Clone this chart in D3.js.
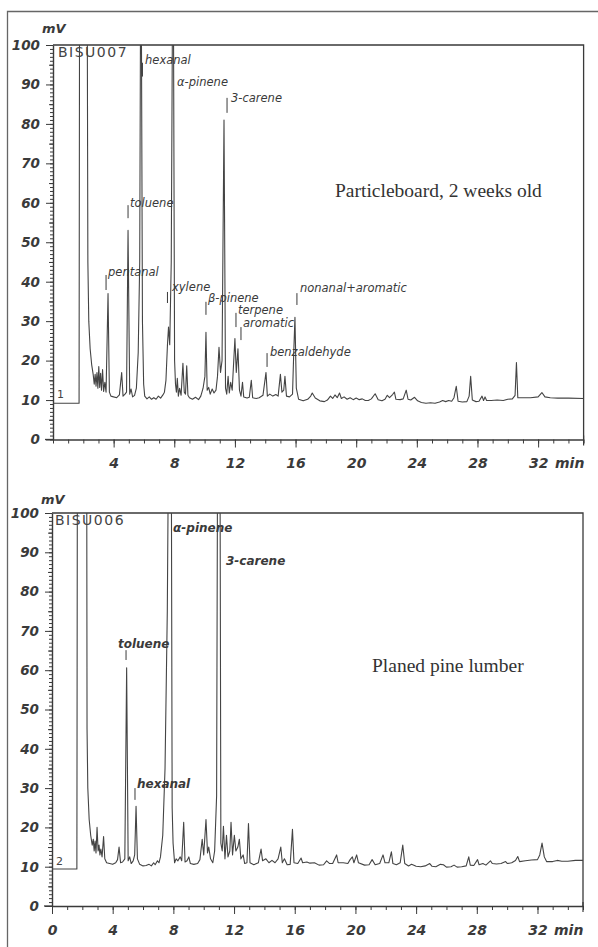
<!DOCTYPE html>
<html><head><meta charset="utf-8">
<script src="https://cdn.jsdelivr.net/npm/d3@7"></script>
<style>
html,body{margin:0;padding:0;background:#fff;}
svg{display:block;}
</style></head><body>
<svg id="c" width="598" height="947"></svg>
<script>
// ---------- DATA ----------
// Chromatogram traces: [retention time (min), signal (mV)]; values >100 are off-scale peaks
const particleboard = [
 [0,9.2],[1.72,9.2],[1.76,140],[2.24,140],[2.3,45],[2.36,30],[2.45,23],[2.55,19],[2.65,16.5],[2.72,14],[2.78,16.5],[2.84,13.5],[2.9,17],[2.96,13],[3.02,18.5],[3.08,13.2],[3.14,16.8],[3.2,12.5],[3.27,17.7],[3.34,12.2],[3.42,14.5],[3.5,12],[3.63,37],[3.72,12],[3.82,11],[4.0,10.8],[4.2,10.6],[4.38,11.3],[4.53,17],[4.62,11],[4.75,11.5],[4.85,12],[4.95,53],[5.06,11.5],[5.15,12.8],[5.25,10.8],[5.38,11.2],[5.5,13],[5.62,22],[5.72,45],[5.8,140],[5.9,30],[5.98,14],[6.05,11],[6.2,10.3],[6.35,10.8],[6.5,10.2],[6.65,10.6],[6.8,10.2],[6.95,11],[7.1,10.5],[7.25,11.3],[7.35,12],[7.45,15],[7.55,24],[7.62,28.5],[7.7,24],[7.8,45],[7.92,140],[8.02,20],[8.08,14],[8.14,12],[8.2,15.5],[8.27,11],[8.35,13],[8.45,11.2],[8.57,19.3],[8.66,12],[8.74,11.5],[8.82,18.7],[8.9,11.2],[9.0,10.6],[9.2,10.2],[9.4,10.7],[9.6,10.1],[9.75,11],[9.9,13],[10.02,16],[10.09,27.2],[10.17,12.5],[10.27,13.2],[10.37,11.5],[10.5,12.8],[10.62,11.8],[10.75,12.5],[10.85,16],[10.95,23.4],[11.05,17],[11.15,20],[11.28,81],[11.38,13],[11.46,11.5],[11.55,16],[11.63,11.8],[11.72,14.5],[11.82,12.5],[12.0,25.6],[12.09,17],[12.2,23],[12.3,12.5],[12.4,11],[12.5,14.5],[12.58,10.8],[12.8,10.5],[12.95,10.7],[13.08,15],[13.17,10.6],[13.4,10.4],[13.6,10.6],[13.85,11.2],[14.05,17],[14.14,11],[14.3,11.5],[14.5,11],[14.7,11.4],[14.85,11],[15.0,16.5],[15.1,12],[15.22,12.5],[15.3,16],[15.4,11],[15.6,10.8],[15.8,11.5],[15.88,22],[15.96,31],[16.05,13],[16.2,10.2],[16.5,9.8],[16.8,10.2],[17.0,11],[17.1,11.8],[17.3,10.5],[17.6,9.8],[17.9,9.6],[18.1,10],[18.3,11],[18.45,10.4],[18.6,11.3],[18.75,10.6],[18.9,11.8],[19.02,10.4],[19.2,10.8],[19.4,10.2],[19.6,10.6],[19.8,10.1],[20.0,10.5],[20.2,10.1],[20.4,10.3],[20.6,9.9],[20.8,9.9],[21.0,10.3],[21.25,11.6],[21.45,10.1],[21.7,9.8],[21.9,10.2],[22.05,11.2],[22.2,10.6],[22.4,11.4],[22.52,12],[22.62,10.2],[22.9,10.1],[23.1,10.3],[23.3,12.5],[23.42,10.2],[23.6,10],[23.85,10.7],[24.05,9.8],[24.3,9.4],[24.6,9.2],[24.9,9.3],[25.2,9.2],[25.5,9.5],[25.7,9.9],[25.9,9.6],[26.1,9.9],[26.3,9.7],[26.45,10.6],[26.6,13.5],[26.72,9.7],[27.0,9.5],[27.3,9.6],[27.45,11],[27.55,16],[27.66,10],[27.9,9.6],[28.1,9.7],[28.3,11],[28.4,9.9],[28.5,10.8],[28.6,9.9],[28.9,9.9],[29.3,10],[29.7,9.9],[30.0,10.2],[30.3,10.3],[30.48,11.2],[30.57,19.5],[30.66,10.6],[31.0,10.6],[31.5,10.6],[32.0,10.8],[32.25,11.9],[32.45,10.8],[32.8,10.6],[33.3,10.5],[34.0,10.5],[35.0,10.4]
];
const pineLumber = [
 [0,9.4],[1.64,9.4],[1.68,140],[2.28,140],[2.31,45],[2.36,30],[2.45,22],[2.55,18],[2.65,15.5],[2.72,17],[2.78,14],[2.84,16.5],[2.9,13.5],[2.97,20],[3.04,14],[3.1,15.5],[3.16,13],[3.22,14.5],[3.3,12.5],[3.4,17.7],[3.48,12],[3.6,11],[3.8,10.8],[4.0,10.6],[4.2,11],[4.32,11.8],[4.42,15],[4.52,11],[4.65,11.2],[4.8,12],[4.92,60.6],[5.02,11.5],[5.12,12.5],[5.22,10.8],[5.35,11.5],[5.45,13],[5.54,25.4],[5.63,12],[5.78,10.6],[6.0,10.2],[6.2,10.3],[6.4,10.6],[6.55,10.2],[6.7,11],[6.8,10.5],[6.95,11.5],[7.05,11],[7.15,12.5],[7.3,18],[7.45,35],[7.6,75],[7.72,140],[7.85,140],[7.92,25],[7.98,16],[8.08,11],[8.18,12],[8.3,11.5],[8.45,12.5],[8.55,11.5],[8.68,21.3],[8.77,11.2],[8.9,11.5],[9.02,12.5],[9.12,10.8],[9.35,10.6],[9.6,10.8],[9.75,11.8],[9.9,17],[10.0,13],[10.15,22],[10.25,13.5],[10.33,15],[10.45,12],[10.6,11],[10.72,14],[10.85,28],[10.93,140],[11.06,140],[11.13,16],[11.22,14],[11.3,20.3],[11.4,12],[11.5,18],[11.6,12.5],[11.72,14],[11.8,21.3],[11.9,13],[12.02,18],[12.12,14],[12.25,15],[12.35,17],[12.45,12],[12.6,13],[12.7,10.8],[12.85,11],[12.95,21],[13.05,11],[13.3,10.5],[13.6,11],[13.78,14.5],[13.88,11.5],[14.1,12],[14.3,11],[14.5,11.6],[14.7,11],[14.9,12],[15.08,15],[15.18,11],[15.32,12],[15.5,10.5],[15.7,10.6],[15.85,19.5],[15.95,11],[16.2,10.8],[16.42,12.2],[16.52,11],[16.8,11.2],[17.0,10.9],[17.3,11],[17.6,10.4],[17.9,10.5],[18.1,11.5],[18.3,10.8],[18.5,10.8],[18.76,13],[18.86,11],[19.2,11],[19.5,10.8],[19.65,11.8],[19.8,12.5],[19.9,11],[20.08,13],[20.2,11],[20.6,10.4],[20.9,10.5],[21.1,11.8],[21.3,10.5],[21.6,10.8],[21.82,13],[21.95,11],[22.2,11],[22.37,13.8],[22.47,10.8],[22.7,10.5],[22.95,11],[23.12,15.5],[23.25,10.8],[23.5,10.2],[23.7,10.6],[24.0,10.1],[24.3,10],[24.6,10.2],[24.9,10.8],[25.05,10.1],[25.3,10],[25.6,10.6],[25.8,10.5],[26.0,9.9],[26.3,10],[26.5,10.4],[26.7,9.9],[27.0,10],[27.3,10.2],[27.47,12.5],[27.57,10.4],[27.8,10.3],[28.05,11.8],[28.15,10.5],[28.4,10.8],[28.6,10.4],[28.9,11.5],[29.02,10.8],[29.3,10.7],[29.6,10.8],[29.9,11.3],[30.02,10.8],[30.3,11],[30.55,11.6],[30.7,12.6],[30.82,11.3],[31.2,11.5],[31.6,11.7],[32.0,11.8],[32.15,13],[32.3,16],[32.45,12.5],[32.6,11.3],[33.0,11.3],[33.3,11.6],[33.6,11.4],[34.0,11.4],[34.5,11.6],[35.0,11.6]
];
// Peak annotations (anchored in data units: text at [t,v], marker tick at t from v1 to v2)
const particleboardLabels = [
 {name:"hexanal", t:6.07, v:95.2, tick:[5.9,95.5,92]},
 {name:"\u03b1-pinene", t:8.18, v:89.6, tick:null},
 {name:"3-carene", t:11.74, v:85.6, tick:[11.48,86.6,82.8]},
 {name:"toluene", t:5.08, v:58.9, tick:[4.95,59.4,56.1]},
 {name:"pentanal", t:3.63, v:41.4, tick:[3.5,41.7,37.9]},
 {name:"xylene", t:7.85, v:37.6, tick:[7.55,37.4,34.6]},
 {name:"\u03b2-pinene", t:10.22, v:34.9, tick:[10.09,34.9,31.6]},
 {name:"terpene", t:12.2, v:31.8, tick:[12.07,32.1,28.5]},
 {name:"aromatic", t:12.53, v:28.5, tick:[12.4,28.5,25.2]},
 {name:"benzaldehyde", t:14.31, v:21.2, tick:[14.12,21.9,18.4]},
 {name:"nonanal+aromatic", t:16.29, v:37.4, tick:[16.09,37.1,34.1]}
];
const pineLumberLabels = [
 {name:"\u03b1-pinene", t:7.98, v:95.2, tick:null},
 {name:"3-carene", t:11.47, v:86.8, tick:null},
 {name:"toluene", t:4.35, v:65.6, tick:[4.88,65.1,62.6]},
 {name:"hexanal", t:5.6, v:30.0, tick:[5.47,30.0,27.0]}
];
const runIds = ["BISU007", "BISU006"];
const runNumbers = ["1", "2"];
const sampleNames = ["Particleboard, 2 weeks old", "Planed pine lumber"];
const yTickLabels = [0,10,20,30,40,50,60,70,80,90,100];
const xTickLabelsTop = [4,8,12,16,20,24,28,32];
const xTickLabelsBottom = [0,4,8,12,16,20,24,28,32];
const xDomain = [0, 35];
const yDomain = [0, 100];

// ---------- DRAW ----------
const svg = d3.select("#c");
const ink = "#3a3a3a";
const numFont = "'DejaVu Sans', sans-serif";

// outer frame of the figure
svg.append("path").attr("d","M7.5,947 V11.5 H598").attr("fill","none").attr("stroke","#666").attr("stroke-width",1.3);

function panel(cfg) {
  const x = d3.scaleLinear().domain(xDomain).range([cfg.x0, cfg.x1]);
  const y = d3.scaleLinear().domain(yDomain).range([cfg.yb, cfg.yt]);
  const g = svg.append("g");
  const clipId = "clip" + cfg.id;
  svg.append("clipPath").attr("id", clipId).append("rect")
    .attr("x", cfg.x0).attr("y", cfg.yt).attr("width", cfg.x1 - cfg.x0).attr("height", cfg.yb - cfg.yt);

  // frame top and right
  g.append("path").attr("d", `M${cfg.x0},${cfg.yt} H${cfg.x1} V${cfg.yb}`)
    .attr("fill","none").attr("stroke",ink).attr("stroke-width",1.3);

  // y axis minor ticks
  const yMinor = g.append("g").attr("transform",`translate(${cfg.x0},0)`)
    .call(d3.axisLeft(y).tickValues(d3.range(0,101,1)).tickSize(3).tickFormat("").tickSizeOuter(0));
  yMinor.select(".domain").remove();
  const yMid = g.append("g").attr("transform",`translate(${cfg.x0},0)`)
    .call(d3.axisLeft(y).tickValues(d3.range(5,100,10)).tickSize(4).tickFormat("").tickSizeOuter(0));
  yMid.select(".domain").remove();
  const yMajor = g.append("g").attr("transform",`translate(${cfg.x0},0)`)
    .call(d3.axisLeft(y).tickValues(yTickLabels).tickSize(7).tickPadding(6).tickSizeOuter(0));
  yMajor.select(".domain").attr("stroke", ink).attr("stroke-width",1.4);
  [yMinor, yMid, yMajor].forEach(a => a.selectAll(".tick line").attr("stroke", ink).attr("stroke-width",1));
  yMajor.selectAll(".tick text").attr("fill", ink)
    .style("font-family", numFont).style("font-size","13.5px").style("font-weight","bold").style("font-style","italic");

  // x axis
  const xMinor = g.append("g").attr("transform",`translate(0,${cfg.yb})`)
    .call(d3.axisBottom(x).tickValues(d3.range(0,36,1)).tickSize(4).tickFormat("").tickSizeOuter(0));
  xMinor.select(".domain").remove();
  const xMajor = g.append("g").attr("transform",`translate(0,${cfg.yb})`)
    .call(d3.axisBottom(x).tickValues(cfg.xLabels).tickSize(8).tickSizeOuter(0));
  xMajor.select(".domain").attr("stroke", ink).attr("stroke-width",1.4);
  [xMinor, xMajor].forEach(a => a.selectAll(".tick line").attr("stroke", ink).attr("stroke-width",1));
  xMajor.selectAll(".tick text").attr("fill", ink).attr("y", cfg.xLabelDy).attr("dy", null)
    .style("font-family", numFont).style("font-size","14px").style("font-weight","bold").style("font-style","italic");
  // end tick of x axis
  g.append("line").attr("x1", x(35)).attr("x2", x(35)).attr("y1", cfg.yb - 4).attr("y2", cfg.yb + 6)
    .attr("stroke", ink).attr("stroke-width", 1.2);
  // zero tick extends left
  g.append("line").attr("x1", cfg.x0 - 8).attr("x2", cfg.x0).attr("y1", cfg.yb).attr("y2", cfg.yb)
    .attr("stroke", ink).attr("stroke-width", 1.3);

  // unit labels
  g.append("text").attr("x", cfg.mvX).attr("y", cfg.mvY).text("mV").attr("fill", ink)
    .style("font-family", numFont).style("font-size","13px").style("font-weight","bold").style("font-style","italic");
  g.append("text").attr("x", cfg.minX).attr("y", cfg.yb + cfg.xLabelDy).text("min").attr("fill", ink)
    .style("font-family", numFont).style("font-size","14px").style("font-weight","bold").style("font-style","italic");

  // run id & number
  g.append("text").attr("x", cfg.x0 + cfg.idDx).attr("y", cfg.yt + 12).text(cfg.runId).attr("fill","#444")
    .attr("letter-spacing", "1.5px")
    .style("font-family","'DejaVu Sans', sans-serif").style("font-size","14px");
  g.append("text").attr("x", cfg.x0 + 4).attr("y", y(cfg.numV)).text(cfg.runNum).attr("fill","#444")
    .style("font-family","'DejaVu Sans', sans-serif").style("font-size","11px");

  // trace
  const line = d3.line().x(d => x(d[0])).y(d => y(d[1]));
  g.append("path").datum(cfg.series).attr("d", line).attr("clip-path", `url(#${clipId})`)
    .attr("fill","none").attr("stroke","#444").attr("stroke-width",1.1).attr("stroke-linejoin","round");

  // annotations
  cfg.labels.forEach(l => {
    if (l.tick) {
      g.append("line").attr("x1", x(l.tick[0])).attr("x2", x(l.tick[0]))
        .attr("y1", y(l.tick[1])).attr("y2", y(l.tick[2])).attr("stroke", ink).attr("stroke-width",1);
    }
    g.append("text").attr("x", x(l.t)).attr("y", y(l.v)).text(l.name).attr("fill", ink)
      .style("font-family","'DejaVu Sans', sans-serif").style("font-size", cfg.labelSize)
      .style("font-style","italic").style("font-weight", cfg.labelWeight);
  });

  // sample name
  g.append("text").attr("x", cfg.nameX).attr("y", cfg.nameY).text(cfg.name).attr("fill","#333")
    .style("font-family","'Liberation Serif', 'Times New Roman', serif").style("font-size","19.5px");
}

panel({id:1, x0:53, x1:583.6, yb:439.5, yt:45, series: particleboard, labels: particleboardLabels,
  xLabels: xTickLabelsTop, xLabelDy: 28, mvX: 42, mvY: 33, minX: 555, idDx: 5, runId: runIds[0],
  runNum: runNumbers[0], numV: 10.5, labelSize: "11.5px", labelWeight: "normal",
  name: sampleNames[0], nameX: 335, nameY: 197});
panel({id:2, x0:52, x1:583, yb:906, yt:513, series: pineLumber, labels: pineLumberLabels,
  xLabels: xTickLabelsBottom, xLabelDy: 29, mvX: 41, mvY: 504, minX: 554, idDx: 3, runId: runIds[1],
  runNum: runNumbers[1], numV: 10.5, labelSize: "12px", labelWeight: "bold",
  name: sampleNames[1], nameX: 372, nameY: 672});
</script>
</body></html>
